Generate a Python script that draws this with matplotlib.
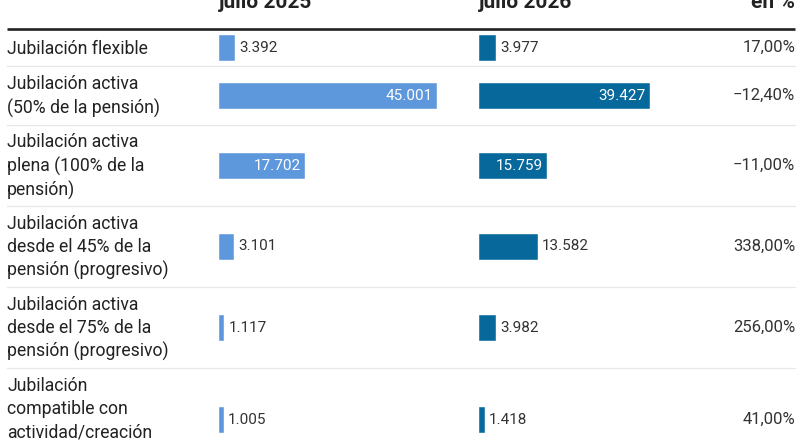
import matplotlib.pyplot as plt

plt.rcParams['font.family'] = ['Roboto', 'DejaVu Sans']

# Datos: afiliados por modalidad de jubilación
labels = [
    'Jubilación flexible',
    'Jubilación activa\n(50% de la pensión)',
    'Jubilación activa\nplena (100% de la\npensión)',
    'Jubilación activa\ndesde el 45% de la\npensión (progresivo)',
    'Jubilación activa\ndesde el 75% de la\npensión (progresivo)',
    'Jubilación\ncompatible con\nactividad/creación\nartística',
]
jul_2025 = [3392, 45001, 17702, 3101, 1117, 1005]
jul_2026 = [3977, 39427, 15759, 13582, 3982, 1418]
var_pct = [17.00, -12.40, -11.00, 338.00, 256.00, 41.00]
headers = ['julio 2025', 'julio 2026', 'en %']

W, H = 800, 445
LIGHT = '#5d97dc'
DARK = '#07689c'
TXT = '#222222'

fig = plt.figure(figsize=(W / 100, H / 100), dpi=100)

# fondo en coordenadas de pixel
bg = fig.add_axes([0, 0, 1, 1])
bg.set_xlim(0, W)
bg.set_ylim(H, 0)
bg.axis('off')

# alturas de fila según número de líneas
top = 29
edges = [top]
for lab in labels:
    edges.append(edges[-1] + 15 + 22 * (lab.count('\n') + 1))
centres = [(a + b) / 2 for a, b in zip(edges[:-1], edges[1:])]

bg.plot([7, 795], [top, top], color=TXT, lw=1.9, solid_capstyle='butt')
for e in edges[1:]:
    bg.plot([7, 795], [e, e], color='#e8e8e8', lw=0.9)

for lab, c in zip(labels, centres):
    bg.text(7, c + 1, lab, ha='left', va='center', fontsize=12.7, color=TXT,
            linespacing=1.36)

for p, c in zip(var_pct, centres):
    s = f'{abs(p):.2f}'.replace('.', ',') + '%'
    if p < 0:
        s = '\u2212' + s
    bg.text(795, c, s, ha='right', va='center', fontsize=12, color='#333333')

bg.text(219, 8, headers[0], ha='left', va='baseline', fontsize=15, fontweight='bold', color=TXT)
bg.text(479, 8, headers[1], ha='left', va='baseline', fontsize=15, fontweight='bold', color=TXT)
bg.text(795, 8, headers[2], ha='right', va='baseline', fontsize=15, fontweight='bold', color=TXT)


def bar_column(left_px, width_px, xmax, values, color):
    ax = fig.add_axes([left_px / W, 0, width_px / W, 1])
    ax.set_xlim(0, xmax)
    ax.set_ylim(H, 0)
    ax.axis('off')
    ax.patch.set_visible(False)
    ax.barh(centres, values, height=26, color=color, edgecolor='white', linewidth=0.3)
    for v, c in zip(values, centres):
        s = f'{v:,}'.replace(',', '.')
        if v > 15000:
            ax.annotate(s, (v, c), xytext=(-4, 0), textcoords='offset pixels',
                        ha='right', va='center', fontsize=11, color='white')
        else:
            ax.annotate(s, (v, c), xytext=(4, 0), textcoords='offset pixels',
                        ha='left', va='center', fontsize=11, color='#333333')
    return ax


bar_column(219, 218, 45001, jul_2025, LIGHT)
bar_column(479, 218, 50300, jul_2026, DARK)

fig.savefig('out.png', dpi=100)
